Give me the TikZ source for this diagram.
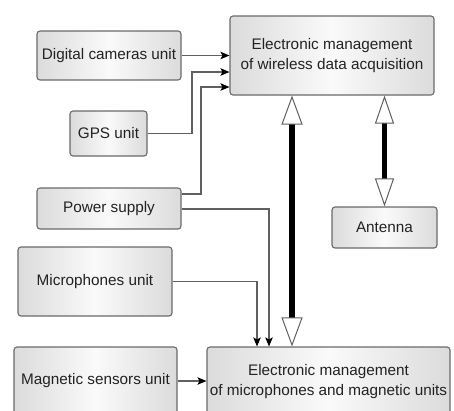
\documentclass[tikz,border=0pt]{standalone}
\usepackage{fontspec}
\setmainfont{Liberation Sans}
\usetikzlibrary{arrows.meta}
\definecolor{edge}{HTML}{606060}
\definecolor{boxline}{HTML}{6A6A6A}
\definecolor{txt}{HTML}{222222}
\tikzset{
  unitbox/.style={draw=boxline, line width=1.1pt, rounded corners=3pt,
    left color=gray!28, right color=gray!28, middle color=gray!4,
    text=txt, align=center, inner sep=0pt,
    font=\fontsize{15.3}{20}\selectfont},
  conn/.style={draw=edge, line width=1.1pt,
    -{Stealth[length=9pt,width=7.5pt,inset=2pt,color=black,fill=black]}},
  line/.style={draw=edge, line width=1.1pt},
  bigarrow/.style={line width=6pt, black,
    {Triangle[length=29pt,width=21pt,line width=1pt,color=edge,fill=white]}-{Triangle[length=29pt,width=21pt,line width=1pt,color=edge,fill=white]}},
  smallarrow/.style={line width=5pt, black,
    {Triangle[length=28pt,width=19pt,line width=1pt,color=edge,fill=white]}-{Triangle[length=28pt,width=19pt,line width=1pt,color=edge,fill=white]}}
}
\begin{document}
\begin{tikzpicture}[x=1pt,y=-1pt]
\clip (0,0) rectangle (454,410);
\fill[white] (0,0) rectangle (454,410);

\node[unitbox, minimum width=144pt, minimum height=49pt] (dig) at (109,55.5) {Digital cameras unit};
\node[unitbox, minimum width=77pt, minimum height=45pt] (gps) at (108.5,133.5) {GPS unit};
\node[unitbox, minimum width=144pt, minimum height=41pt] (ps) at (109,208.5) {Power supply};
\node[unitbox, minimum width=154pt, minimum height=69pt] (mic) at (95,281.5) {Microphones unit};
\node[unitbox, minimum width=163pt, minimum height=68pt] (mag) at (95.5,381) {Magnetic sensors unit};
\node[unitbox, minimum width=204pt, minimum height=79pt] (top) at (332,55.5) {Electronic management\\of wireless data acquisition};
\node[unitbox, minimum width=105pt, minimum height=41pt] (ant) at (384.5,227.5) {Antenna};
\node[unitbox, minimum width=243pt, minimum height=70pt] (bot) at (328.5,382) {Electronic management\\of microphones and magnetic units};

\coordinate (gpsbend) at (192,72);
\coordinate (psbend) at (201,87);

\draw[conn] (dig.east) -- (dig.east -| top.west);
\draw[conn] (gps.east) -| (gpsbend) -- (gpsbend -| top.west);
\draw[conn] ([yshift=14.5pt]ps.east) -| (psbend) -- (psbend -| top.west);
\draw[conn] ([yshift=-0.5pt]ps.east) -| ([xshift=-59.5pt]bot.north);
\draw[conn] (mic.east) -| ([xshift=-71.5pt]bot.north);
\draw[conn] (mag.east) -- (mag.east -| bot.west);

\draw[bigarrow] ([xshift=-40pt]top.south) -- ([xshift=-40pt]top.south |- bot.north);
\draw[smallarrow] (ant.north |- top.south) -- (ant.north);
\end{tikzpicture}
\end{document}
